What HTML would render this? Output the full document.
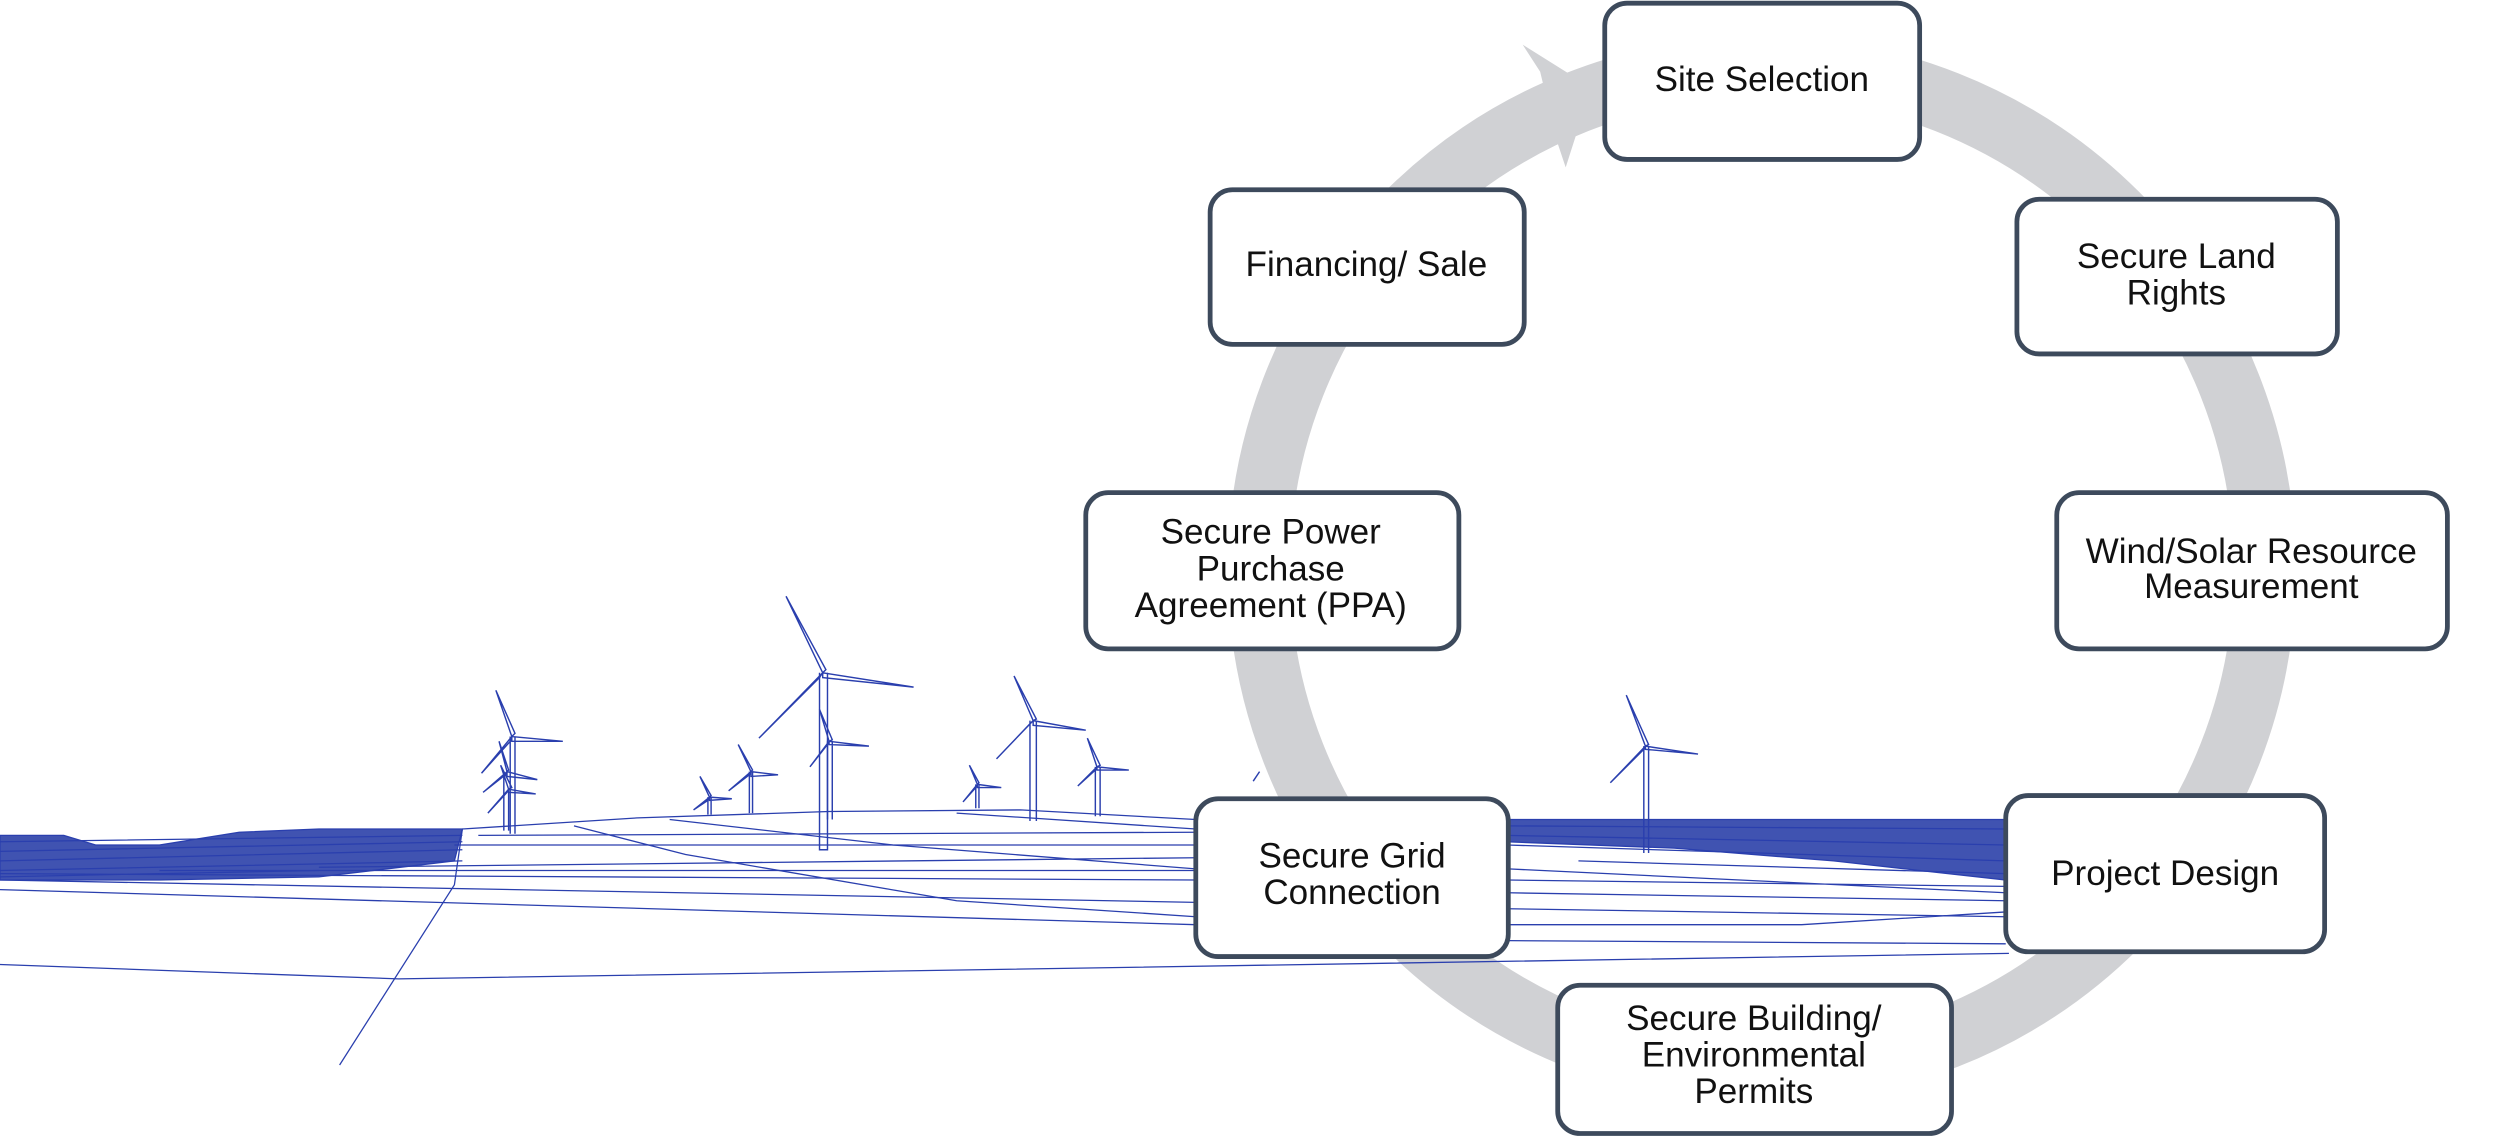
<!DOCTYPE html>
<html><head><meta charset="utf-8"><style>
html,body{margin:0;padding:0;background:#fff;}
svg{display:block;}
text{font-family:"Liberation Sans Narrow","Liberation Sans",sans-serif;font-size:22px;fill:#111;text-anchor:middle;}
</style></head><body>
<svg width="2500" height="1138" viewBox="0 0 1568 713.8" preserveAspectRatio="none" xmlns="http://www.w3.org/2000/svg">
<g stroke="#2a3fae" fill="none" stroke-width="0.8">
<path d="M0,524 L40,524 L60,530 L100,530 L150,522 L200,520 L290,520 L285,540 L200,550 L100,552 L0,552 Z" fill="#1f35a3" fill-opacity="0.85"/>
<path d="M0,528 L290,524 M0,534 L290,528 M0,540 L290,533 M0,546 L290,540 M0,550 L200,546" />
<path d="M945,514 L1258,514 L1258,552 L1150,540 L1050,532 L945,528 Z" fill="#1f35a3" fill-opacity="0.85"/>
<path d="M945,518 L1258,520 M945,524 L1258,530 M945,530 L1258,540 M990,540 L1258,548"/>
<path d="M290,520 L400,513 L520,509 L640,508 L750,514"/>
<path d="M290,520 L285,555 L213,668"/>
<path d="M0,558 L750,580"/>
<path d="M0,552 L750,566"/>
<path d="M0,548 L750,552"/>
<path d="M100,546 L750,546"/>
<path d="M200,544 L750,538"/>
<path d="M285,530 L750,530"/>
<path d="M300,524 L750,522"/>
<path d="M360,518 L430,536 L600,565 L750,575"/>
<path d="M420,514 L560,530 L750,545"/>
<path d="M600,510 L750,520"/>
<path d="M946,560 L1258,565 M946,570 L1258,575 M946,580 L1130,580 L1258,572 M946,590 L1258,592 M946,552 L1258,556 M946,545 L1258,560"/>
<g stroke-width="0.9">
<path d="M514,422 L514,533 L519,533 L519,422"/>
<path d="M516,422 L493,374 L518,420 Z M516,422 L573,431 L516,425 Z M516,422 L476,463 L514,425 Z"/>
<path d="M320,462 L320,523 M323,462 L323,523"/>
<path d="M321,462 L311,433 L323,460 Z M321,462 L353,465 L321,465 Z M321,462 L302,485 L320,465 Z"/>
<path d="M316,484 L316,521 M318,484 L313,465 L319,483 Z M318,484 L337,489 L318,487 Z M318,484 L303,497 L317,486 Z"/>
<path d="M319,495 L319,521 M319,495 L314,480 L321,494 Z M319,495 L336,498 L319,497 Z M319,495 L306,510 L318,497 Z"/>
<path d="M470,484 L470,510 M472,484 L472,510 M471,484 L463,467 L472,483 Z M471,484 L488,486 L471,487 Z M471,484 L457,496 L470,486 Z"/>
<path d="M444,500 L444,511 M446,500 L446,511 M445,500 L439,487 L446,499 Z M445,500 L459,501 L445,502 Z M445,500 L435,508 L444,502 Z"/>
<path d="M519,465 L519,514 M522,465 L522,514 M520,465 L514,445 L522,464 Z M520,465 L545,468 L520,467 Z M520,465 L508,481 L519,467 Z"/>
<path d="M646,452 L646,515 M650,452 L650,515 M648,452 L636,424 L650,451 Z M648,452 L681,458 L648,455 Z M648,452 L625,476 L646,454 Z"/>
<path d="M687,481 L687,512 M690,481 L690,512 M688,481 L682,463 L690,480 Z M688,481 L708,483 L688,483 Z M688,481 L676,493 L687,483 Z"/>
<path d="M612,492 L612,507 M614,492 L614,507 M613,492 L608,480 L614,491 Z M613,492 L628,494 L613,494 Z M613,492 L604,503 L612,494 Z"/>
<path d="M1031,468 L1031,535 M1034,468 L1034,535 M1032,468 L1020,436 L1034,467 Z M1032,468 L1065,473 L1032,470 Z M1032,468 L1010,491 L1031,470 Z"/>
<path d="M790,484 L786,490"/>
</g>
</g>
<circle cx="1105" cy="357.5" r="315.5" fill="none" stroke="#d0d1d4" stroke-width="39"/>
<polygon points="955,28 998,55 982,105 976,87 966,45" fill="#d0d1d4"/>
<path d="M0,605 L250,614 L1260,598" stroke="#2a3fae" stroke-width="0.8" fill="none"/>
<g fill="#fff" stroke="#3d4a5c" stroke-width="3">
<rect x="1006.5" y="2" width="197.5" height="98" rx="14"/>
<rect x="1265" y="125" width="201" height="97" rx="14"/>
<rect x="1290" y="309" width="245" height="98" rx="14"/>
<rect x="1258" y="499" width="200" height="98" rx="14"/>
<rect x="977" y="618" width="247" height="93" rx="14"/>
<rect x="750" y="501" width="196" height="99" rx="14"/>
<rect x="681" y="309" width="234" height="98" rx="14"/>
<rect x="759" y="119" width="197" height="97" rx="14"/>
</g>
<text x="1105" y="57">Site Selection</text>
<text x="1365" y="168">Secure Land</text>
<text x="1365" y="191">Rights</text>
<text x="1412" y="353">Wind/Solar Resource</text>
<text x="1412" y="375">Measurement</text>
<text x="1358" y="555">Project Design</text>
<text x="1100" y="646">Secure Building/</text>
<text x="1100" y="669">Environmental</text>
<text x="1100" y="692">Permits</text>
<text x="848" y="544">Secure Grid</text>
<text x="848" y="567">Connection</text>
<text x="797" y="341">Secure Power</text>
<text x="797" y="364">Purchase</text>
<text x="797" y="387">Agreement (PPA)</text>
<text x="857" y="173">Financing/ Sale</text>
</svg>
</body></html>
